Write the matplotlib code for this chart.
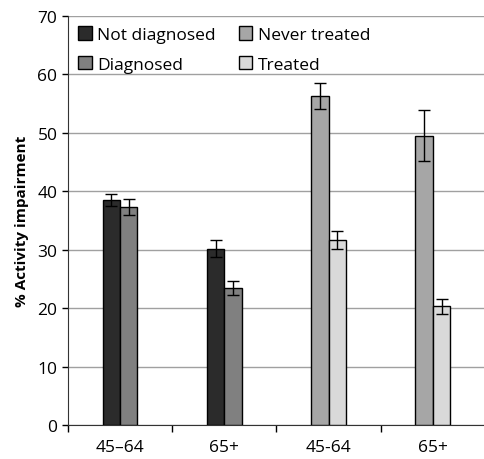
import numpy as np
import matplotlib
matplotlib.use("Agg")
import matplotlib.pyplot as plt

plt.rcParams['font.family'] = ['Open Sans', 'DejaVu Sans']

groups = ['45\u201364', '65+', '45-64', '65+']
not_diag = [38.5, 30.2, np.nan, np.nan]
not_diag_err = [1.0, 1.5, 0, 0]
diag = [37.3, 23.5, np.nan, np.nan]
diag_err = [1.3, 1.2, 0, 0]
never_tr = [np.nan, np.nan, 56.3, 49.5]
never_tr_err = [0, 0, 2.3, 4.4]
treated = [np.nan, np.nan, 31.7, 20.3]
treated_err = [0, 0, 1.5, 1.3]

fig = plt.figure(figsize=(4.85, 4.6), dpi=100)
ax = fig.add_axes([0.140, 0.074, 0.860, 0.889])

x = np.arange(len(groups)) + 0.5
w = 0.167
ekw = dict(elinewidth=1, capthick=1, ecolor='black')
# order chosen so the 2-column legend reads: Not diagnosed / Never treated on row 1
ax.bar(x - w/2, not_diag, w, yerr=not_diag_err, capsize=4, color='#2b2b2b',
       edgecolor='black', linewidth=1, error_kw=ekw, label='Not diagnosed', zorder=3)
ax.bar(x + w/2, diag, w, yerr=diag_err, capsize=4, color='#808080',
       edgecolor='black', linewidth=1, error_kw=ekw, label='Diagnosed', zorder=3)
ax.bar(x - w/2, never_tr, w, yerr=never_tr_err, capsize=4, color='#a6a6a6',
       edgecolor='black', linewidth=1, error_kw=ekw, label='Never treated', zorder=3)
ax.bar(x + w/2, treated, w, yerr=treated_err, capsize=4, color='#d9d9d9',
       edgecolor='black', linewidth=1, error_kw=ekw, label='Treated', zorder=3)

ax.set_xlim(0, 4)
ax.set_ylim(0, 70)
ax.set_yticks(range(0, 71, 10))
ax.yaxis.grid(True, color='#a0a0a0', linewidth=1)
ax.set_axisbelow(True)
ax.set_xticks([0, 1, 2, 3, 4])
ax.set_xticklabels([])
ax.set_xticks(x, minor=True)
ax.set_xticklabels(groups, minor=True)
ax.tick_params(axis='x', which='major', length=5, width=1, direction='out')
ax.tick_params(axis='x', which='minor', length=0, pad=10)
ax.tick_params(axis='y', length=4, width=1, direction='out')
ax.tick_params(axis='both', which='both', labelsize=12.5)
for s in ['top', 'right']:
    ax.spines[s].set_visible(False)
ax.spines['left'].set_color('#333333')
ax.spines['bottom'].set_color('#333333')

ax.set_ylabel('% Activity impairment', fontsize=11, fontweight='bold', labelpad=6)

ax.legend(loc='upper left', ncol=2, frameon=False, fontsize=12.5,
          handlelength=0.8, handleheight=0.8, handletextpad=0.3,
          columnspacing=1.3, labelspacing=0.75, borderaxespad=0.2)

fig.savefig('out.png', dpi=100)
